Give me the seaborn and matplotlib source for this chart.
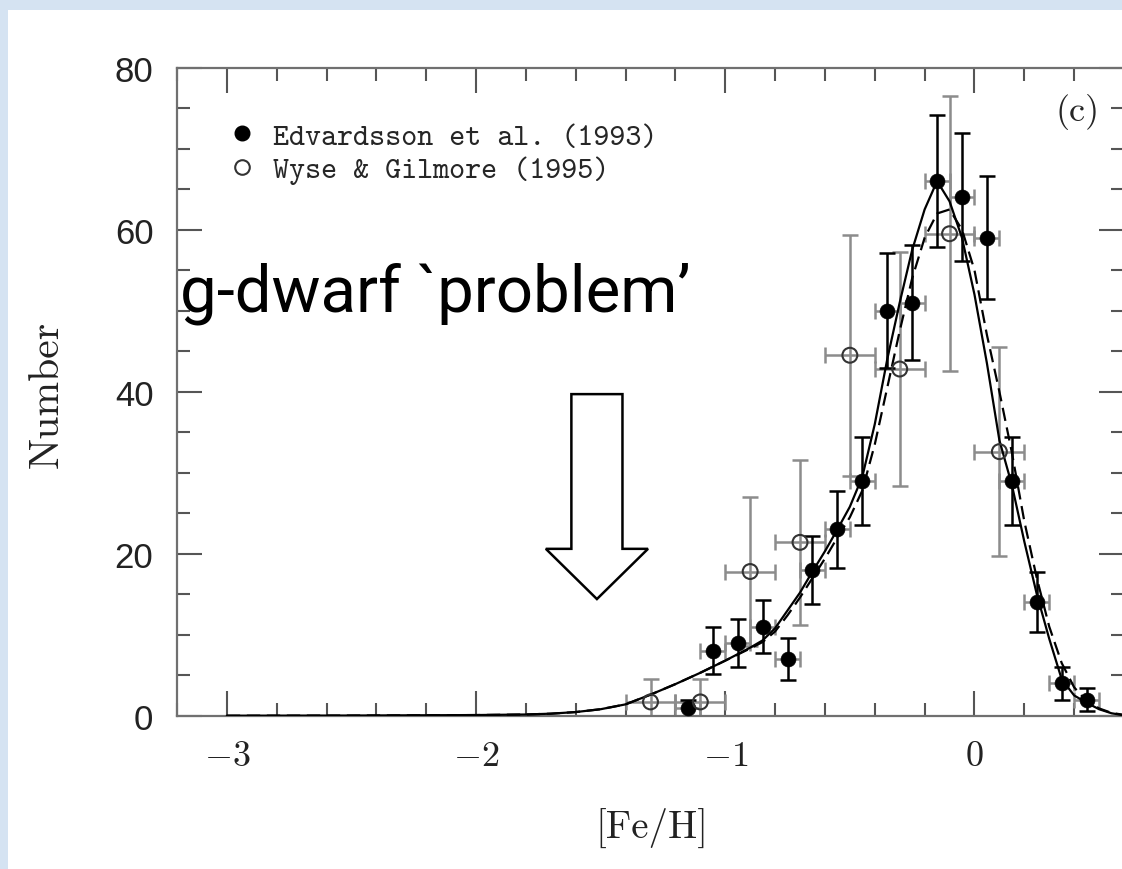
import numpy as np
import pandas as pd
import matplotlib
matplotlib.use("Agg")
import matplotlib.pyplot as plt
import seaborn as sns
from matplotlib.patches import FancyArrow, Rectangle
from matplotlib.lines import Line2D
from matplotlib.ticker import MultipleLocator

# ---------------- data ----------------
edv_feh = [-1.15, -1.05, -0.95, -0.85, -0.75, -0.65, -0.55, -0.45, -0.35,
           -0.25, -0.15, -0.05, 0.05, 0.15, 0.25, 0.35, 0.45]
edv_num = [1, 8, 9, 11, 7, 18, 23, 29, 50, 51, 66, 64, 59, 29, 14, 4, 2]
edv_err = [1.0, 2.9, 3.0, 3.3, 2.6, 4.2, 4.8, 5.4, 7.1, 7.1, 8.1, 7.9, 7.6,
           5.4, 3.7, 2.0, 1.4]
edv_binhalf = 0.05

wg_feh = [-1.3, -1.1, -0.9, -0.7, -0.5, -0.3, -0.1, 0.1]
wg_num = [1.7, 1.7, 17.8, 21.4, 44.5, 42.8, 59.5, 32.6]
wg_err = [2.8, 2.8, 9.2, 10.2, 14.9, 14.5, 17.0, 12.9]
wg_binhalf = 0.1

model_feh = [-3.0, -2.5, -2.0, -1.8, -1.7, -1.6, -1.5, -1.4, -1.3, -1.2, -1.1,
             -1.0, -0.9, -0.85, -0.8, -0.75, -0.7, -0.65, -0.6, -0.55, -0.5,
             -0.45, -0.4, -0.35, -0.3, -0.25, -0.2, -0.15, -0.1, -0.05, 0.0,
             0.05, 0.1, 0.15, 0.2, 0.25, 0.3, 0.35, 0.4, 0.45, 0.5, 0.55, 0.6]
model_solid = [0.0, 0.02, 0.08, 0.15, 0.25, 0.45, 0.8, 1.4, 2.6, 3.9, 5.3,
               6.8, 8.4, 9.3, 10.8, 13.0, 15.2, 17.8, 20.3, 23.0, 25.8,
               29.5, 36.0, 44.0, 51.0, 57.5, 62.5, 66.0, 63.5, 59.0, 52.0,
               43.5, 34.0, 28.5, 21.5, 15.0, 9.5, 4.5, 2.5, 1.6, 0.8, 0.3, 0.05]
model_dashed = [0.0, 0.02, 0.08, 0.15, 0.25, 0.45, 0.8, 1.4, 2.6, 3.9, 5.3,
                6.8, 8.3, 9.1, 10.4, 12.4, 14.6, 17.0, 19.4, 22.0, 24.5,
                27.8, 33.5, 40.5, 47.5, 54.0, 59.0, 62.0, 62.5, 60.0, 55.0,
                47.0, 40.0, 32.5, 24.0, 17.0, 11.0, 6.5, 3.5, 1.8, 0.9, 0.35, 0.1]

legend_labels = ["Edvardsson et al. (1993)", "Wyse & Gilmore (1995)"]
xtick_values = [-3, -2, -1, 0]
xtick_labels = [r"$-3$", r"$-2$", r"$-1$", r"$0$"]
ytick_values = [0, 20, 40, 60, 80]
ytick_labels = ["0", "20", "40", "60", "80"]

# ---------------- style ----------------
sns.set_theme(style="white")
plt.rcParams['font.family'] = ['Liberation Sans', 'DejaVu Sans']
plt.rcParams['mathtext.fontset'] = 'cm'

W, H = 1122, 870
fig = plt.figure(figsize=(W / 100, H / 100), dpi=100)
fig.patch.set_facecolor('#d5e3f2')
fig.add_artist(Rectangle((8 / W, 0), 1, (H - 11) / H, transform=fig.transFigure,
                         facecolor='white', edgecolor='none', zorder=-10))

ax = fig.add_axes([177 / W, (H - 716.7) / H, 947 / W, 648 / H])
ax.set_facecolor('white')

df_model = pd.DataFrame({"feh": model_feh, "solid": model_solid, "dashed": model_dashed})
sns.lineplot(data=df_model, x="feh", y="solid", ax=ax, color='black', lw=1.6,
             sort=False, estimator=None, zorder=3)
sns.lineplot(data=df_model, x="feh", y="dashed", ax=ax, color='black', lw=1.6,
             sort=False, estimator=None, zorder=3, linestyle=(0, (6, 3)))

gray = '#8c8c8c'
# Wyse & Gilmore error bars
ax.errorbar(wg_feh, wg_num, xerr=wg_binhalf, fmt='none', ecolor=gray,
            elinewidth=1.8, capsize=5.5, capthick=1.8, zorder=2)
ax.errorbar(wg_feh, wg_num, yerr=wg_err, fmt='none', ecolor=gray,
            elinewidth=1.8, capsize=5.5, capthick=1.8, zorder=2)
# Edvardsson error bars
ax.errorbar(edv_feh, edv_num, xerr=edv_binhalf, fmt='none', ecolor=gray,
            elinewidth=1.8, capsize=5.5, capthick=1.8, zorder=2)
ax.errorbar(edv_feh, edv_num, yerr=edv_err, fmt='none', ecolor='black',
            elinewidth=1.8, capsize=5.5, capthick=1.8, zorder=2)

sns.scatterplot(x=edv_feh, y=edv_num, ax=ax, color='black', edgecolor='black',
                s=115, marker='o', zorder=5, linewidth=0.5)
sns.scatterplot(x=wg_feh, y=wg_num, ax=ax, s=115, marker='o', zorder=5,
                facecolors='none', edgecolor='#333333', linewidth=1.5)
ax.collections[-1].set_facecolor('none')

# arrow annotation
ax.add_patch(FancyArrow(-1.515, 39.7, 0, -25.3, width=0.205, head_width=0.41,
                        head_length=6.2, length_includes_head=True,
                        facecolor='white', edgecolor='black', linewidth=1.8,
                        zorder=4))

ax.text(-3.189, 50.0, "g-dwarf `problem\u2019", family='Roboto', fontsize=47,
        ha='left', va='baseline', color='black', zorder=6)
ax.text(0.415, 74.7, "(c)", family='cmr10', fontsize=26, ha='center', va='center')

handles = [Line2D([], [], ls='none', marker='o', markersize=10.5, color='black'),
           Line2D([], [], ls='none', marker='o', markersize=10.5, mfc='none',
                  mec='#333333', mew=1.5)]
ax.legend(handles, legend_labels, loc='upper left', bbox_to_anchor=(0.059, 0.915),
          frameon=False, prop={'family': 'cmtt10', 'size': 22}, handlelength=0.6,
          handletextpad=0.7, labelspacing=0.15, borderpad=0, borderaxespad=0)

ax.set_xlim(-3.2, 0.6)
ax.set_ylim(0, 80)
ax.set_xticks(xtick_values)
ax.set_xticklabels(xtick_labels)
ax.set_yticks(ytick_values)
ax.set_yticklabels(ytick_labels)
ax.xaxis.set_minor_locator(MultipleLocator(0.2))
ax.yaxis.set_minor_locator(MultipleLocator(5))
ax.tick_params(which='major', direction='in', length=18, width=1.5, color='#555555',
               top=True, right=True, bottom=True, left=True)
ax.tick_params(which='minor', direction='in', length=9.5, width=1.5, color='#555555',
               top=True, right=True, bottom=True, left=True)
ax.tick_params(axis='y', which='major', pad=17, labelsize=25, labelcolor='#222222')
ax.tick_params(axis='x', which='major', pad=16, labelsize=26, labelcolor='#222222')
ax.set_xlabel("")
ax.set_ylabel("")
for s in ax.spines.values():
    s.set_color('#707070')
    s.set_linewidth(1.6)

fig.text(47 / W, 1 - 394 / H, "Number", family='cmr10', rotation=90, ha='center',
         va='center', fontsize=30, color='#222222')
fig.text(652 / W, 1 - 828 / H, "[Fe/H]", family='cmr10', ha='center', va='center',
         fontsize=28, color='#222222')

fig.savefig("out.png", dpi=100, facecolor=fig.get_facecolor())
